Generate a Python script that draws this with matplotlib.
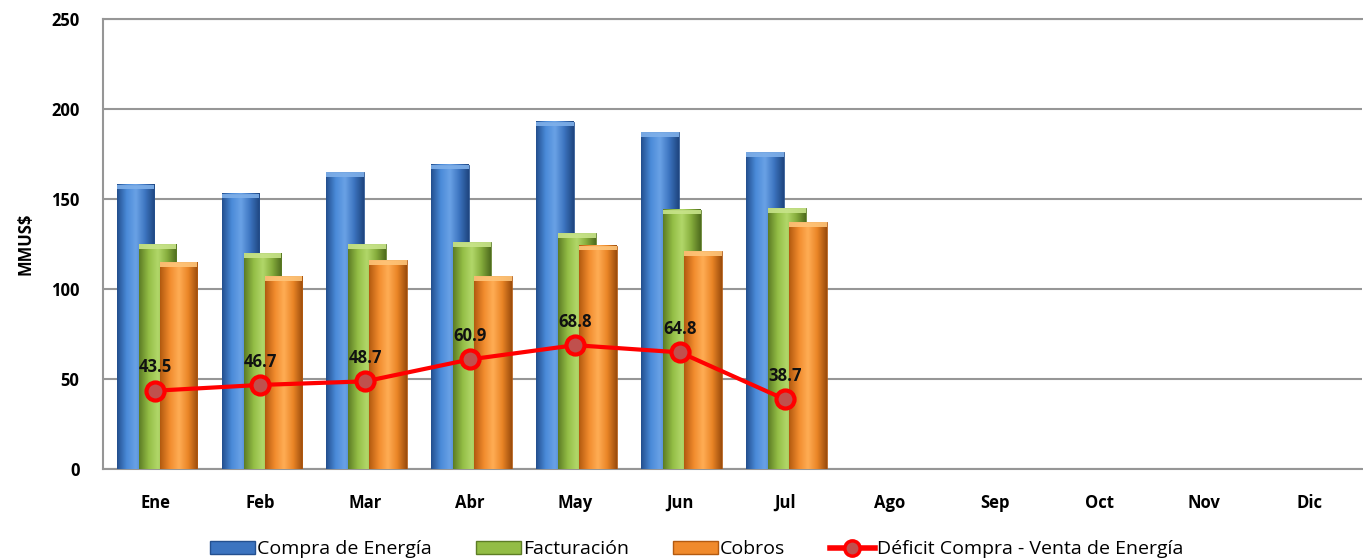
import matplotlib
matplotlib.use("Agg")
import matplotlib.pyplot as plt
import numpy as np
from matplotlib.colors import LinearSegmentedColormap
from matplotlib.lines import Line2D
from matplotlib.patches import Patch

months = ["Ene", "Feb", "Mar", "Abr", "May", "Jun", "Jul", "Ago", "Sep", "Oct", "Nov", "Dic"]
compra = [158, 153, 165, 169, 193, 187, 176]
facturacion = [125, 120, 125, 126, 131, 144, 145]
cobros = [115, 107, 116, 107, 124, 121, 137]
deficit = [43.5, 46.7, 48.7, 60.9, 68.8, 64.8, 38.7]
yticks = [0, 50, 100, 150, 200, 250]

plt.rcParams['font.family'] = ['Open Sans', 'DejaVu Sans']

fig = plt.figure(figsize=(13.63, 5.59), dpi=100)
ax = fig.add_axes([0.0756, 0.161, 0.9234, 0.805])

x = np.arange(len(months))
ax.set_xlim(-0.5, len(months) - 0.5)
ax.set_ylim(0, 250)

series = [
    (compra, -0.19, ["#24508f", "#4a8ad8", "#6aa2e6", "#3c74c0", "#1f4680"], "#7fb0ea"),
    (facturacion, 0.02, ["#5d7d25", "#93bd45", "#b2d86a", "#86ad3c", "#4f6c1e"], "#c8e48a"),
    (cobros, 0.22, ["#b35a10", "#f08a2c", "#ffad55", "#ea8526", "#9c4c0c"], "#ffc57a"),
]
width = 0.36
z = 3
for vals, off, cols, capcol in series:
    cmap = LinearSegmentedColormap.from_list("g", cols)
    grad = np.linspace(0, 1, 64).reshape(1, -1)
    for i, v in enumerate(vals):
        x0 = x[i] + off - width / 2
        ax.imshow(grad, cmap=cmap, aspect="auto", extent=(x0, x0 + width, 0, v),
                  zorder=z, interpolation="bicubic")
        ax.bar(x[i] + off, v, width=width, facecolor="none", edgecolor=cols[0],
               linewidth=0.6, zorder=z + 0.1)
        ax.bar(x[i] + off, 2.5, bottom=v - 2.5, width=width, color=capcol,
               edgecolor="none", zorder=z + 0.2, alpha=0.9)
    z += 1

ax.plot(x[:len(deficit)], deficit, color="#ff0000", linewidth=3, marker="o",
        markersize=13, markerfacecolor="#c0504d", markeredgecolor="#ff0000",
        markeredgewidth=3, zorder=10)
for i, d in enumerate(deficit):
    ax.text(x[i], d + 8, f"{d:.1f}", ha="center", va="bottom", fontsize=12,
            fontweight="bold", color="#111111", zorder=11)

ax.set_yticks(yticks)
ax.set_xticks(x)
ax.set_xticklabels(months, fontsize=12, fontweight="bold")
ax.tick_params(axis="y", labelsize=12, length=0, pad=17)
ax.tick_params(axis="x", length=0, pad=18)
for lbl in ax.get_yticklabels():
    lbl.set_fontweight("bold")
ax.grid(axis="y", color="#969696", linewidth=1.5, zorder=0)
ax.set_axisbelow(True)
for s in ["left", "bottom", "top"]:
    ax.spines[s].set_color("#969696")
    ax.spines[s].set_linewidth(1.5)
ax.spines["right"].set_visible(False)
ax.set_ylabel("MMUS$", fontsize=12, fontweight="bold", labelpad=12)

handles = [
    Patch(facecolor="#3c74c0", edgecolor="#24508f"),
    Patch(facecolor="#93bd45", edgecolor="#5d7d25"),
    Patch(facecolor="#f08a2c", edgecolor="#b35a10"),
    Line2D([0], [0], color="#ff0000", linewidth=4, marker="o", markersize=11,
           markerfacecolor="#c0504d", markeredgecolor="#ff0000", markeredgewidth=2.5),
]
labels = ["Compra de Energía", "Facturación", "Cobros", "Déficit Compra - Venta de Energía"]
fig.legend(handles, labels, loc="lower center", bbox_to_anchor=(0.511, -0.03), ncol=4,
           frameon=False, fontsize=14, handlelength=2.3, handletextpad=0.1,
           columnspacing=2.3, handleheight=0.6)

fig.savefig("out.png", dpi=100)
